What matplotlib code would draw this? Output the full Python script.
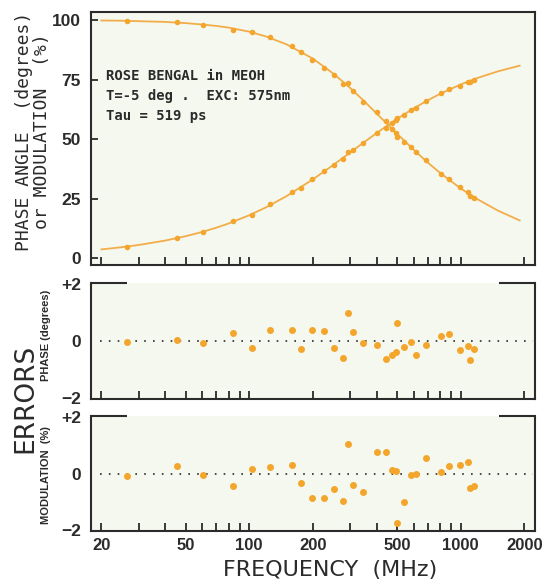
import matplotlib
matplotlib.use("Agg")
import matplotlib.pyplot as plt
from matplotlib.ticker import FixedLocator, FuncFormatter, NullLocator

# ---------------- data ----------------
freq = [26.5, 45.5, 60.3, 83.5, 102.8, 125.5, 159, 175.5, 197.5, 225,
        251, 277, 292, 309, 347, 404, 445, 475, 496, 498,
        537, 582, 617, 687, 810, 880, 993, 1078, 1105, 1162]
phase = [4.9, 8.5, 11.1, 15.5, 18.3, 22.7, 27.8, 29.5, 33.2, 36.6,
         39.1, 41.5, 44.6, 45.5, 48.5, 52.7, 54.8, 56.7, 57.9, 59.0,
         60.0, 62.2, 63.1, 65.8, 69.4, 71.1, 72.5, 74.0, 73.8, 74.9]
modulation = [99.5, 99.2, 98.1, 96.0, 95.0, 92.8, 89.1, 86.5, 83.2, 79.7,
              76.9, 73.2, 73.5, 70.0, 65.6, 61.2, 57.5, 54.4, 52.7, 50.7,
              48.6, 46.6, 44.5, 41.3, 35.5, 33.2, 29.8, 27.8, 26.2, 25.1]
phase_err = [-0.02, 0.05, -0.05, 0.29, -0.23, 0.40, 0.40, -0.26, 0.40, 0.37,
             -0.25, -0.60, 0.97, 0.31, -0.08, -0.14, -0.63, -0.48, -0.38, 0.64,
             -0.22, -0.02, -0.49, -0.14, 0.18, 0.26, -0.30, -0.16, -0.65, -0.28]
mod_err = [-0.09, 0.28, -0.05, -0.45, 0.15, 0.25, 0.31, -0.34, -0.85, -0.88,
           -0.53, -0.98, 1.05, -0.42, -0.65, 0.78, 0.76, 0.12, 0.09, -1.74,
           -1.01, -0.05, 0.00, 0.57, 0.07, 0.28, 0.32, 0.41, -0.50, -0.44]

fit_freq = [20, 25, 30, 40, 50, 60, 70, 80, 100, 120, 150, 200, 250, 300, 350,
            400, 450, 500, 600, 700, 800, 1000, 1200, 1500, 1900]
fit_phase = [3.73, 4.66, 5.59, 7.43, 9.26, 11.07, 12.86, 14.62, 18.06, 21.37,
             26.07, 33.11, 39.19, 44.37, 48.77, 52.52, 55.73, 58.48, 62.93,
             66.34, 69.03, 72.95, 75.67, 78.45, 80.83]
fit_mod = [99.8, 99.7, 99.5, 99.2, 98.7, 98.1, 97.5, 96.8, 95.1, 93.1,
           89.8, 83.8, 77.5, 71.5, 65.9, 60.8, 56.3, 52.3, 45.5, 40.1,
           35.8, 29.3, 24.8, 20.0, 15.9]

xtick_pos = [20, 30, 40, 50, 60, 70, 80, 90, 100, 200, 300, 400, 500, 600,
             700, 800, 900, 1000, 2000]
xtick_labeled = [20, 50, 100, 200, 500, 1000, 2000]
top_yticks = [0, 25, 50, 75, 100]
top_yticklabels = ["0", "25", "50", "75", "100"]
err_yticks = [-2, 0, 2]
err_yticklabels = ["\u22122", "0", "+2"]

annotation = ["ROSE BENGAL in MEOH", "T=-5 deg .  EXC: 575nm", "Tau = 519 ps"]

# ---------------- style ----------------
ORANGE = "#f3a52c"
LINE = "#f2ad48"
FACE = "#f5f8ef"
INK = "#2b2b2b"
BOLD = ["Liberation Sans", "DejaVu Sans"]

fig = plt.figure(figsize=(5.45, 5.83), dpi=100)
fig.patch.set_facecolor("white")

L, W = 0.1664, 0.8152
ax1 = fig.add_axes([L, 0.5455, W, 0.4345])
ax2 = fig.add_axes([L, 0.3156, W, 0.1995])
ax3 = fig.add_axes([L, 0.0897, W, 0.1967])


def base(ax):
    ax.set_facecolor(FACE)
    ax.set_xscale("log")
    ax.set_xlim(17.8, 2245)
    ax.xaxis.set_major_locator(FixedLocator(xtick_pos))
    ax.xaxis.set_minor_locator(NullLocator())
    for s in ax.spines.values():
        s.set_color(INK)
        s.set_linewidth(1.5)
    ax.tick_params(axis="x", which="major", direction="in", length=6,
                   width=1.3, color=INK, bottom=True, top=False)


for ax in (ax1, ax2, ax3):
    base(ax)

# ---- top panel
ax1.plot(fit_freq, fit_phase, color=LINE, lw=1.3, zorder=2)
ax1.plot(fit_freq, fit_mod, color=LINE, lw=1.3, zorder=2)
ax1.plot(freq, phase, "o", color=ORANGE, ms=4, mec="none", zorder=3)
ax1.plot(freq, modulation, "o", color=ORANGE, ms=4, mec="none", zorder=3)
ax1.set_ylim(-2.8, 103.5)
ax1.set_yticks(top_yticks)
ax1.set_yticklabels(top_yticklabels)
ax1.tick_params(axis="y", direction="in", length=5, width=1.3, color=INK,
                pad=7, labelsize=12.5, labelcolor=INK)
for t in ax1.get_yticklabels():
    t.set_family(BOLD)
    t.set_fontweight("bold")
ax1.set_xticklabels([])

for i, line in enumerate(annotation):
    ax1.text(0.035, 0.745 - i * 0.079, line, transform=ax1.transAxes,
             family=["DejaVu Sans Mono"], fontweight="bold", fontsize=10,
             color=INK, va="center", ha="left")

# ---- error panels
for ax, err in ((ax2, phase_err), (ax3, mod_err)):
    ax.axhline(0, xmin=0.02, xmax=0.995, color=INK, lw=1.2,
               dashes=(1.0, 4.3), zorder=1)
    ax.plot(freq, err, "o", color=ORANGE, ms=5, mec="none", zorder=3)
    ax.set_ylim(-2.03, 2.05)
    ax.set_yticks(err_yticks)
    ax.set_yticklabels(err_yticklabels)
    ax.tick_params(axis="y", length=0, pad=7, labelsize=12.5, labelcolor=INK)
    for t in ax.get_yticklabels():
        t.set_family(BOLD)
        t.set_fontweight("bold")
    ax.spines["top"].set_visible(False)
    ax.plot([0, 0.081], [1, 1], transform=ax.transAxes, color=INK, lw=1.5,
            clip_on=False, solid_capstyle="butt")
    ax.plot([0.919, 1.0], [1, 1], transform=ax.transAxes, color=INK, lw=1.5,
            clip_on=False, solid_capstyle="butt")

ax2.set_xticklabels([])
ax3.xaxis.set_major_formatter(FuncFormatter(
    lambda v, p: f"{int(round(v))}" if int(round(v)) in xtick_labeled else ""))
ax3.tick_params(axis="x", pad=5, labelsize=12, labelcolor=INK)
for t in ax3.get_xticklabels():
    t.set_family(BOLD)
    t.set_fontweight("bold")

# ---- figure labels
fig.text(24 / 545, 1 - 131 / 583, "PHASE ANGLE  (degrees)", rotation=90,
         ha="center", va="center", family=["DejaVu Sans Mono"], fontsize=13,
         color=INK)
fig.text(42 / 545, 1 - 131 / 583, "or MODULATION  (%)", rotation=90,
         ha="center", va="center", family=["DejaVu Sans Mono"], fontsize=13,
         color=INK)
fig.text(25 / 545, 1 - 398 / 583, "ERRORS", rotation=90, ha="center",
         va="center", family=["DejaVu Sans"], fontsize=19, color=INK)
fig.text(46 / 545, 1 - 335 / 583, "PHASE (degrees)", rotation=90, ha="center",
         va="center", family=BOLD, fontweight="bold", fontsize=8, color=INK)
fig.text(46 / 545, 1 - 475 / 583, "MODULATION  (%)", rotation=90, ha="center",
         va="center", family=BOLD, fontweight="bold", fontsize=8, color=INK)
fig.text(330 / 545, 1 - 570 / 583, "FREQUENCY  (MHz)", ha="center",
         va="center", family=["DejaVu Sans"], fontsize=16, color=INK)

fig.savefig("out.png", dpi=100, facecolor="white")
